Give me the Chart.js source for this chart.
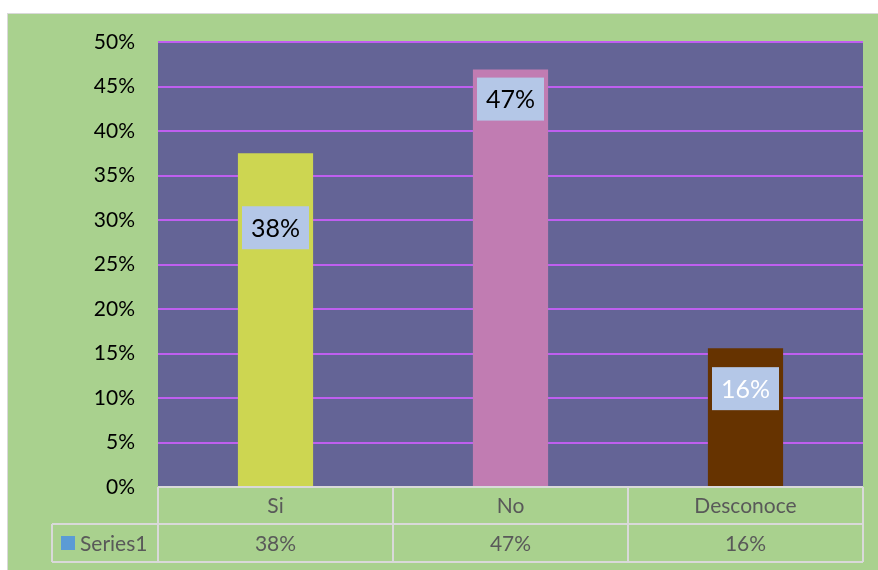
<!DOCTYPE html>
<html>
<head>
<meta charset="utf-8">
<script src="https://cdn.jsdelivr.net/npm/chart.js@4.4.1/dist/chart.umd.min.js"></script>
<style>
    html, body { margin: 0; padding: 0; background: #ffffff; }
    #wrap { width: 878px; height: 570px; position: relative; }
</style>
</head>
<body>
<div id="wrap"><canvas id="grafica"></canvas></div>
<script>
// datos de la grafica
const categorias = ["Si", "No", "Desconoce"];
const valores = [0.375, 0.469, 0.156];
const nombreSerie = "Series1";
const coloresBarras = ["#cdd651", "#c17cb2", "#663300"];
const marcasEje = [0, 0.05, 0.10, 0.15, 0.20, 0.25, 0.30, 0.35, 0.40, 0.45, 0.50];

const FUENTE = "Lato, 'Open Sans', sans-serif";
const pct = v => Math.round(v * 100) + "%";

// fondo verde, borde gris y area de trazado morada
const fondoPlugin = {
    id: "fondo",
    beforeDraw(chart) {
        const ctx = chart.ctx;
        const a = chart.chartArea;
        ctx.save();
        ctx.fillStyle = "#ffffff";
        ctx.fillRect(0, 0, chart.width, chart.height);
        ctx.fillStyle = "#d9d9d9";
        ctx.fillRect(7, 13, chart.width - 7, chart.height - 13);
        ctx.fillStyle = "#a9d18e";
        ctx.fillRect(8, 14, chart.width - 8, chart.height - 14);
        ctx.fillStyle = "#646496";
        ctx.fillRect(a.left, a.top, a.right - a.left, a.bottom - a.top);
        ctx.restore();
    }
};

// etiquetas con caja azul claro sobre cada barra
const etiquetasPlugin = {
    id: "etiquetas",
    afterDatasetsDraw(chart, args, opts) {
        const ctx = chart.ctx;
        const meta = chart.getDatasetMeta(0);
        ctx.save();
        ctx.font = "25px " + FUENTE;
        ctx.textAlign = "center";
        ctx.textBaseline = "middle";
        meta.data.forEach((bar, i) => {
            const w = 67, h = 43;
            const top = bar.y + opts.desplazamientos[i];
            ctx.fillStyle = "#b4c7e7";
            ctx.fillRect(bar.x - w / 2, top, w, h);
            ctx.fillStyle = opts.coloresTexto[i];
            ctx.fillText(pct(valores[i]), bar.x, top + h / 2 + 1);
        });
        ctx.restore();
    }
};

// tabla de datos debajo del eje
const tablaPlugin = {
    id: "tabla",
    afterDraw(chart) {
        const ctx = chart.ctx;
        const a = chart.chartArea;
        const xs = chart.scales.x;
        const ancho = (a.right - a.left) / categorias.length;
        const fila1 = a.bottom, fila2 = a.bottom + 37, fila3 = a.bottom + 75;
        const izq = 52;

        ctx.save();
        ctx.strokeStyle = "#d9d9d9";
        ctx.lineWidth = 2;
        ctx.beginPath();
        ctx.moveTo(a.left, fila1); ctx.lineTo(a.right, fila1);
        ctx.moveTo(izq, fila2); ctx.lineTo(a.right, fila2);
        ctx.moveTo(izq, fila3); ctx.lineTo(a.right, fila3);
        ctx.moveTo(izq, fila2); ctx.lineTo(izq, fila3);
        for (let i = 0; i <= categorias.length; i++) {
            const x = a.left + i * ancho;
            ctx.moveTo(x, fila1); ctx.lineTo(x, fila3);
        }
        ctx.stroke();

        ctx.fillStyle = "#595959";
        ctx.font = "21px " + FUENTE;
        ctx.textAlign = "center";
        ctx.textBaseline = "middle";
        categorias.forEach((c, i) => {
            const x = xs.getPixelForValue(i);
            ctx.fillText(c, x, (fila1 + fila2) / 2 + 1);
            ctx.fillText(pct(valores[i]), x, (fila2 + fila3) / 2 + 1);
        });

        // leyenda de la serie
        ctx.fillStyle = "#5b9bd5";
        ctx.fillRect(61, 536, 14, 14);
        ctx.fillStyle = "#595959";
        ctx.textAlign = "left";
        ctx.fillText(nombreSerie, 80, (fila2 + fila3) / 2 + 1);
        ctx.restore();
    }
};

const ctx = document.getElementById("grafica").getContext("2d");

new Chart(ctx, {
    type: "bar",
    data: {
        labels: categorias,
        datasets: [{
            label: nombreSerie,
            data: valores,
            backgroundColor: coloresBarras,
            borderWidth: 0,
            barPercentage: 0.32,
            categoryPercentage: 1
        }]
    },
    options: {
        responsive: true,
        maintainAspectRatio: false,
        animation: false,
        layout: {
            padding: { left: 0, top: 42, right: 15, bottom: 83 }
        },
        scales: {
            x: { display: false },
            y: {
                min: 0,
                max: 0.5,
                afterFit: s => { s.width = 158; },
                afterBuildTicks: s => { s.ticks = marcasEje.map(v => ({ value: v })); },
                border: { display: false },
                grid: {
                    drawTicks: false,
                    lineWidth: 2,
                    color: c => c.tick.value === 0 ? "rgba(0,0,0,0)" : "#bf5ff0"
                },
                ticks: {
                    padding: 23,
                    color: "#000000",
                    font: { family: FUENTE, size: 21 },
                    callback: v => pct(v)
                }
            }
        },
        plugins: {
            legend: { display: false },
            tooltip: { enabled: false },
            etiquetas: {
                desplazamientos: [53, 8, 19],
                coloresTexto: ["#000000", "#000000", "#ffffff"]
            }
        }
    },
    plugins: [fondoPlugin, etiquetasPlugin, tablaPlugin]
});
</script>
</body>
</html>
